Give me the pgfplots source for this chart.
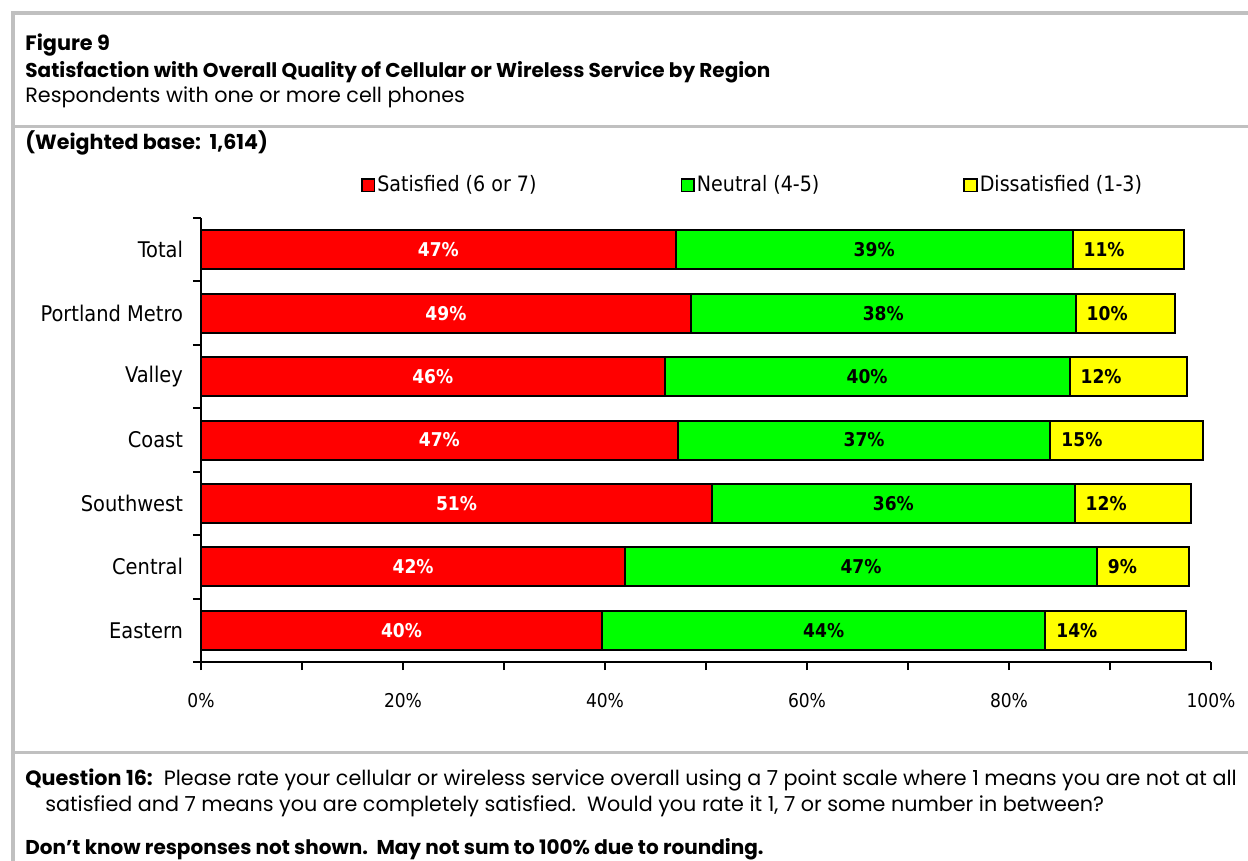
\documentclass[border=0pt]{standalone}
\usepackage{pgfplots}
\pgfplotsset{compat=1.18}
\usepackage{pgfplotstable}
\usepackage{fontspec}
\setmainfont{Poppins}
\newfontfamily\cf{DejaVu Sans Condensed}
\definecolor{framegray}{RGB}{192,192,192}
\definecolor{bred}{RGB}{255,0,0}
\definecolor{bgreen}{RGB}{0,255,0}
\definecolor{byellow}{RGB}{255,255,0}

\pgfplotstableread{
idx r g d rl gl dl
0 47.0 39.3 11.0 47 39 11
1 48.5 38.1 9.8 49 38 10
2 45.9 40.1 11.6 46 40 12
3 47.2 36.9 15.1 47 37 15
4 50.6 35.9 11.5 51 36 12
5 42.0 46.7 9.1 42 47 9
6 39.7 43.9 13.9 40 44 14
}\data

\begin{document}
\begin{tikzpicture}
\useasboundingbox (0,0) rectangle (624pt,-430.5pt);
\begin{scope}[x=0.5pt,y=-0.5pt]
\fill[white] (0,0) rectangle (1248,861);
\draw[framegray, line width=2pt] (13,861) -- (13,13) -- (1248,13);
\draw[framegray, line width=1.5pt] (13,127) -- (1248,127);
\draw[framegray, line width=1.5pt] (13,752) -- (1248,752);
\node[anchor=base west, inner sep=0, font=\bfseries\fontsize{10.4}{12}\selectfont] at (25,51) {Figure 9};
\node[anchor=base west, inner sep=0, font=\bfseries\fontsize{10}{12}\selectfont] at (25,78) {Satisfaction with Overall Quality of Cellular or Wireless Service by Region};
\node[anchor=base west, inner sep=0, font=\fontsize{10.35}{12}\selectfont] at (25,103) {Respondents with one or more cell phones};
\node[anchor=base west, inner sep=0, font=\bfseries\fontsize{10.3}{12}\selectfont] at (25,150) {(Weighted base:\ \ 1,614)};
\node[anchor=base west, inner sep=0, font=\fontsize{10.35}{12}\selectfont] at (25,785) {\textbf{Question 16:}\ \ Please rate your cellular or wireless service overall using a 7 point scale where 1 means you are not at all};
\node[anchor=base west, inner sep=0, font=\fontsize{10.35}{12}\selectfont] at (45,811) {satisfied and 7 means you are completely satisfied.\ \ Would you rate it 1, 7 or some number in between?};
\node[anchor=base west, inner sep=0, font=\bfseries\fontsize{10}{12}\selectfont] at (25,854) {Don’t know responses not shown.\ \ May not sum to 100\% due to rounding.};
\end{scope}
\begin{axis}[
  at={(100.5pt,-331pt)}, anchor=south west,
  scale only axis, width=505pt, height=222pt,
  xmin=0, xmax=100, ymin=-0.5, ymax=6.5, y dir=reverse,
  axis x line*=bottom, axis y line*=left,
  x axis line style={line width=1.2pt, -},
  y axis line style={line width=1pt, -},
  xtick={0,20,40,60,80,100},
  xticklabels={0\%,20\%,40\%,60\%,80\%,100\%},
  minor xtick={10,30,50,70,90},
  ytick={0,1,2,3,4,5,6},
  yticklabels={Total,Portland Metro,Valley,Coast,Southwest,Central,Eastern},
  minor ytick={-0.5,0.5,1.5,2.5,3.5,4.5,5.5,6.5},
  major y tick style={draw=none},
  minor y tick style={black, line width=1pt},
  major x tick style={black, line width=1pt},
  minor x tick style={black, line width=0.8pt},
  tick align=outside,
  major tick length=4pt, minor tick length=4pt,
  xticklabel style={yshift=-8pt, font=\cf\fontsize{9.5}{11}\selectfont},
  yticklabel style={xshift=-1.5pt, font=\cf\fontsize{10.8}{12}\selectfont},
  legend style={at={(0.152,1.074)}, anchor=west, draw=none, fill=none,
    font=\cf\fontsize{10.6}{12}\selectfont, legend columns=3,
    /tikz/every even column/.append style={column sep=71pt},
    nodes={inner sep=1pt}},
  legend cell align=left,
  legend image code/.code={\draw[#1] (0pt,-3.2pt) rectangle (6.4pt,3.2pt);},
  clip=false,
]
\addlegendimage{fill=bred, draw=black, line width=0.8pt}
\addlegendentry{Satisfied (6 or 7)}
\addlegendimage{fill=bgreen, draw=black, line width=0.8pt}
\addlegendentry{Neutral (4-5)}
\addlegendimage{fill=byellow, draw=black, line width=0.8pt}
\addlegendentry{Dissatisfied (1-3)}

\addplot[xbar, bar width=19.5pt, bar shift=0pt, fill=byellow, draw=black, line width=1pt, forget plot]
  table[x expr=\thisrow{r}+\thisrow{g}+\thisrow{d}, y=idx] {\data};
\addplot[xbar, bar width=19.5pt, bar shift=0pt, fill=bgreen, draw=black, line width=1pt, forget plot]
  table[x expr=\thisrow{r}+\thisrow{g}, y=idx] {\data};
\addplot[xbar, bar width=19.5pt, bar shift=0pt, fill=bred, draw=black, line width=1pt, forget plot]
  table[x=r, y=idx] {\data};

\addplot[only marks, mark=*, mark size=0pt, mark options={draw=none, fill=none}, forget plot,
  point meta=explicit symbolic, nodes near coords={\pgfplotspointmeta\%},
  every node near coord/.append style={anchor=center, text=white, font=\cf\bfseries\fontsize{9.5}{11}\selectfont}]
  table[x expr=\thisrow{r}/2, y=idx, meta=rl] {\data};
\addplot[only marks, mark=*, mark size=0pt, mark options={draw=none, fill=none}, forget plot,
  point meta=explicit symbolic, nodes near coords={\pgfplotspointmeta\%},
  every node near coord/.append style={anchor=center, text=black, font=\cf\bfseries\fontsize{9.5}{11}\selectfont}]
  table[x expr=\thisrow{r}+\thisrow{g}/2, y=idx, meta=gl] {\data};
\addplot[only marks, mark=*, mark size=0pt, mark options={draw=none, fill=none}, forget plot,
  point meta=explicit symbolic, nodes near coords={\pgfplotspointmeta\%},
  every node near coord/.append style={anchor=west, xshift=2pt, text=black, font=\cf\bfseries\fontsize{9.5}{11}\selectfont}]
  table[x expr=\thisrow{r}+\thisrow{g}, y=idx, meta=dl] {\data};
\end{axis}
\end{tikzpicture}
\end{document}
